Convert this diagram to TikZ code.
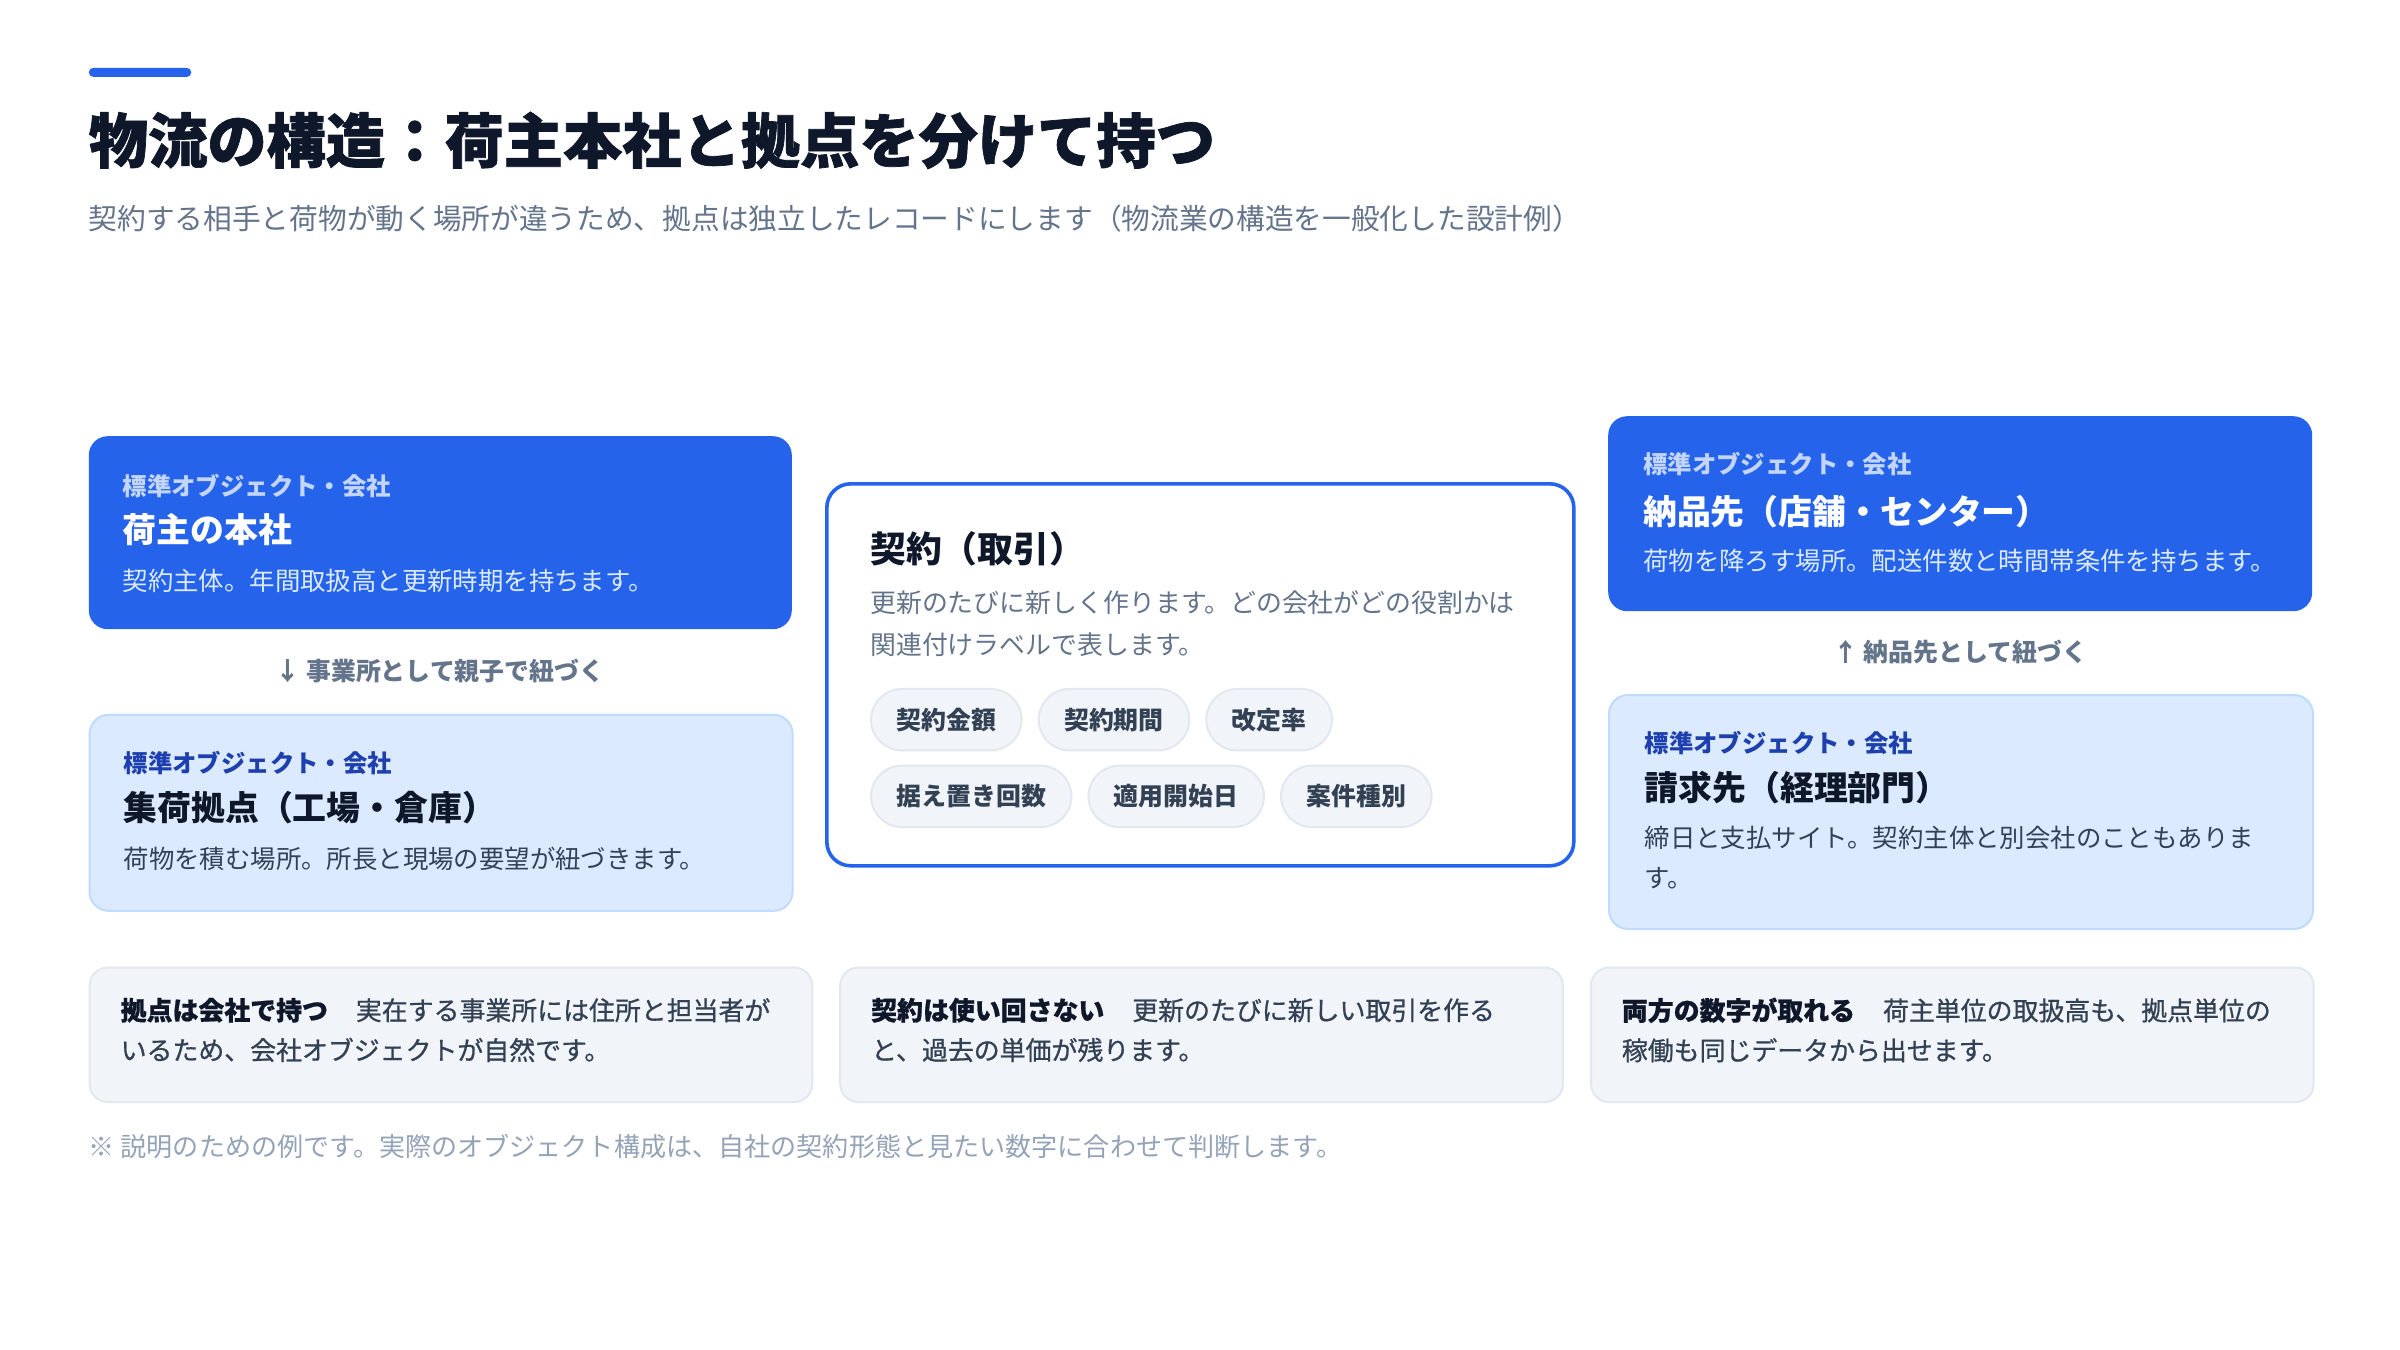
\documentclass[tikz,border=0pt]{standalone}
\usepackage{fontspec}
\setmainfont{Noto Sans CJK JP}
\newfontfamily\heavyfont{Noto Sans CJK JP}[FakeBold=1.2]
\newfontfamily\medfont{Noto Sans CJK JP}[FakeBold=0.8]
\usetikzlibrary{positioning}
\definecolor{accent}{HTML}{2563EB}
\definecolor{ink}{HTML}{0F172A}
\definecolor{slate}{HTML}{64748B}
\definecolor{body}{HTML}{334155}
\definecolor{pale}{HTML}{DBEAFE}
\definecolor{paleline}{HTML}{BFDBFE}
\definecolor{navy}{HTML}{1E40AF}
\definecolor{cardfill}{HTML}{F1F5F9}
\definecolor{cardline}{HTML}{E2E8F0}
\definecolor{note}{HTML}{94A3B8}
\definecolor{onblue}{HTML}{C3D5FA}
\begin{document}
\begin{tikzpicture}[x=1bp,y=-1bp,
  txt/.style={anchor=west, inner sep=0pt, align=left},
  bluebox/.style={draw=none, fill=accent, rounded corners=19bp, anchor=north west, inner sep=0pt},
  palebox/.style={draw=paleline, line width=2bp, fill=pale, rounded corners=19bp, anchor=north west, inner sep=0pt},
  mainbox/.style={draw=accent, line width=3.6bp, fill=white, rounded corners=24bp, anchor=north west, inner sep=0pt},
  card/.style={draw=cardline, line width=2bp, fill=cardfill, rounded corners=18bp, anchor=north west, inner sep=0pt, minimum width=722.7bp, minimum height=134.4bp},
  chip/.style={draw=cardline, line width=2bp, fill=cardfill, rounded corners=31bp, minimum height=61.5bp, inner xsep=25.5bp, inner ysep=0pt, text=body, font=\fontsize{25}{30}\selectfont\bfseries},
  kicker/.style={txt, font=\fontsize{24.5}{30}\selectfont\bfseries},
  btitle/.style={txt, font=\fontsize{34}{42}\selectfont\bfseries},
  bdesc/.style={txt, font=\fontsize{25.5}{40}\selectfont},
  link/.style={anchor=center, inner sep=0pt, text=slate, font=\fontsize{25}{30}\selectfont\bfseries},
  cardtxt/.style={txt, text=body, font=\fontsize{26}{40}\selectfont\medfont}
]
\useasboundingbox[fill=white] (0,0) rectangle (2400,1350);

% header
\node[fill=accent, rounded corners=4.5bp, minimum width=102.5bp, minimum height=9bp, inner sep=0pt, anchor=north west] (bar) at (88.6,67.7) {};
\node[txt, text=ink, font=\fontsize{59.5}{72}\selectfont\heavyfont\bfseries] (title) at (88.6,140.4) {物流の構造：荷主本社と拠点を分けて持つ};
\node[txt, text=slate, font=\fontsize{28.8}{34}\selectfont] (subtitle) at (88.6,219) {契約する相手と荷物が動く場所が違うため、拠点は独立したレコードにします（物流業の構造を一般化した設計例）};

% left column
\node[bluebox, minimum width=703bp, minimum height=193bp] (hq) at (88.6,436) {};
\node[kicker, text=onblue] (hqk) at (122.4,486) {標準オブジェクト・会社};
\node[btitle, text=white] (hqt) at (122.4,529.6) {荷主の本社};
\node[bdesc, text=pale] (hqd) at (122.4,580.4) {契約主体。年間取扱高と更新時期を持ちます。};

\node[link] (l1) at (440,671) {↓ 事業所として親子で紐づく};

\node[palebox, minimum width=703bp, minimum height=196bp] (site) at (88.6,713.8) {};
\node[kicker, text=navy] (sitek) at (123.4,762.6) {標準オブジェクト・会社};
\node[btitle, text=ink] (sitet) at (123.4,807.4) {集荷拠点（工場・倉庫）};
\node[bdesc, text=body] (sited) at (123.4,859) {荷物を積む場所。所長と現場の要望が紐づきます。};

% centre
\node[mainbox, minimum width=747bp, minimum height=382bp] (deal) at (825,482) {};
\node[txt, text=ink, font=\fontsize{36}{44}\selectfont\bfseries] (dealt) at (870,548.5) {契約（取引）};
\node[bdesc, text=slate, font=\fontsize{26}{42}\selectfont] (deald) at (870,624) {更新のたびに新しく作ります。どの会社がどの役割かは\\関連付けラベルで表します。};
\node[chip, anchor=west] (c1) at (870,719.7) {契約金額};
\node[chip, right=15bp of c1] (c2) {契約期間};
\node[chip, right=15bp of c2] (c3) {改定率};
\node[chip, anchor=west] (c4) at (870,796.4) {据え置き回数};
\node[chip, right=15bp of c4] (c5) {適用開始日};
\node[chip, right=15bp of c5] (c6) {案件種別};

% right column
\node[bluebox, minimum width=704bp, minimum height=195bp] (dest) at (1608,416) {};
\node[kicker, text=onblue] (destk) at (1643,464) {標準オブジェクト・会社};
\node[btitle, text=white] (destt) at (1643,511.7) {納品先（店舗・センター）};
\node[bdesc, text=pale] (destd) at (1643,561) {荷物を降ろす場所。配送件数と時間帯条件を持ちます。};

\node[link] (l2) at (1960,652) {↑ 納品先として紐づく};

\node[palebox, minimum width=704bp, minimum height=234bp] (bill) at (1608,694) {};
\node[kicker, text=navy] (billk) at (1644.5,742.6) {標準オブジェクト・会社};
\node[btitle, text=ink] (billt) at (1644.5,787.4) {請求先（経理部門）};
\node[bdesc, text=body] (billd) at (1644.5,858) {締日と支払サイト。契約主体と別会社のこともありま\\す。};

% bottom cards
\node[card] (k1) at (88.6,966.6) {};
\node[cardtxt] (k1t) at (120.5,1030) {{\bfseries\color{ink}拠点は会社で持つ}\hspace{28bp}実在する事業所には住所と担当者が\\いるため、会社オブジェクトが自然です。};
\node[card] (k2) at (839.2,966.6) {};
\node[cardtxt] (k2t) at (871,1030) {{\bfseries\color{ink}契約は使い回さない}\hspace{28bp}更新のたびに新しい取引を作る\\と、過去の単価が残ります。};
\node[card] (k3) at (1590,966.6) {};
\node[cardtxt] (k3t) at (1621.7,1030) {{\bfseries\color{ink}両方の数字が取れる}\hspace{28bp}荷主単位の取扱高も、拠点単位の\\稼働も同じデータから出せます。};

% footnote
\node[txt, text=note, font=\fontsize{26.2}{30}\selectfont] (foot) at (88.6,1146) {※ 説明のための例です。実際のオブジェクト構成は、自社の契約形態と見たい数字に合わせて判断します。};
\end{tikzpicture}
\end{document}
